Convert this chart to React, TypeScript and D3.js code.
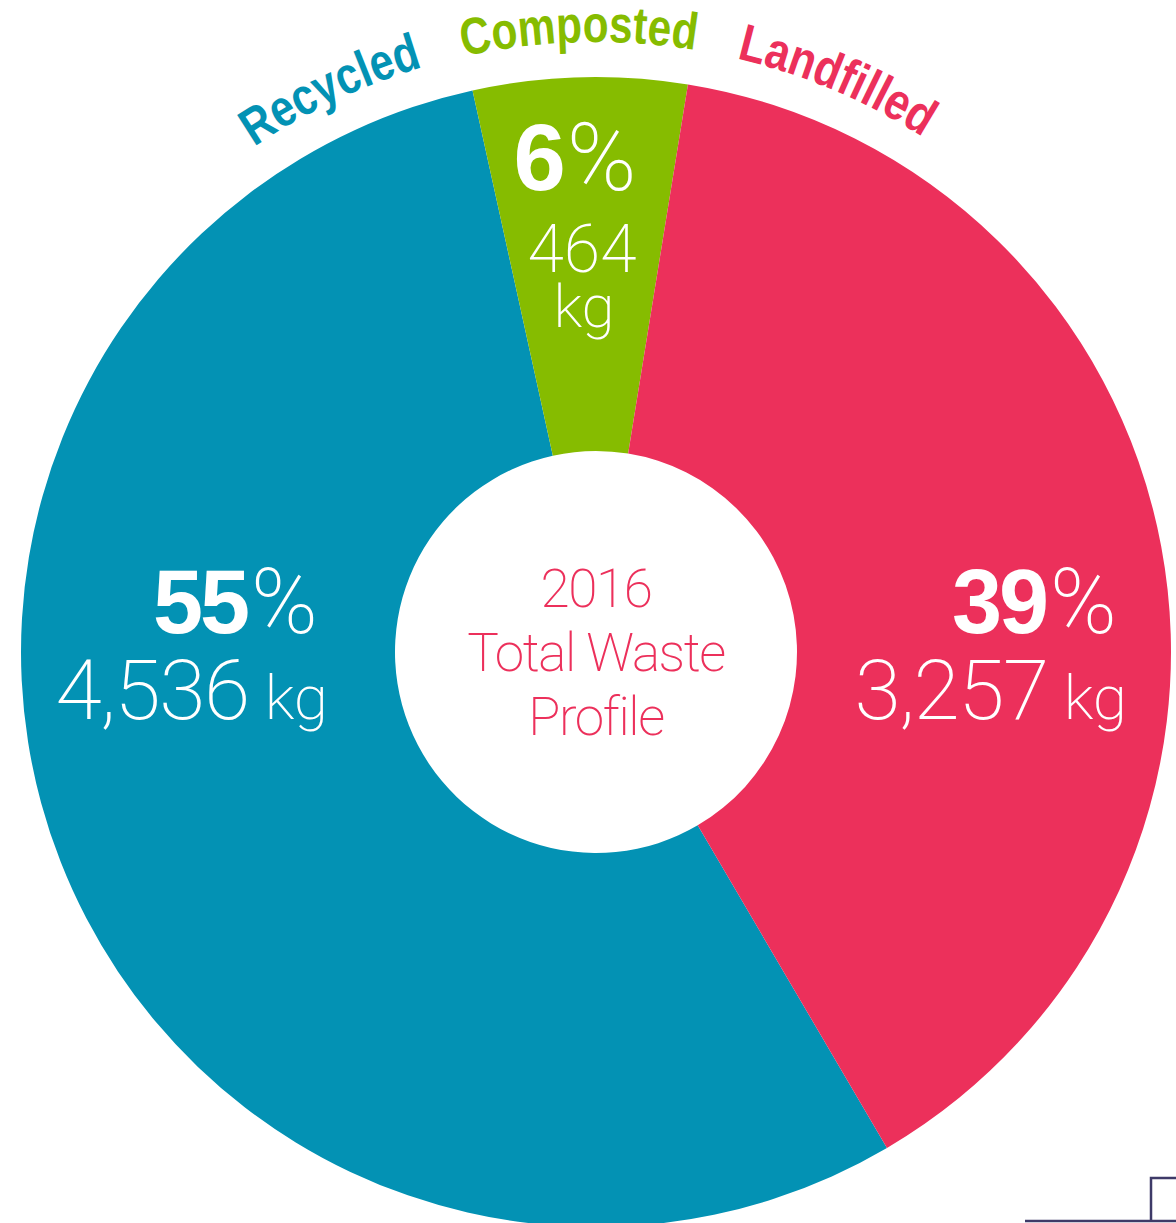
import React from 'react';
import { pie, arc, format } from 'd3';

// slices in drawing order (clockwise, starting bottom-left)
const categories = ['Recycled', 'Composted', 'Landfilled'];
const percents = [55, 6, 39];
const weightsKg = [4536, 464, 3257];
const colors = ['#0392B4', '#86BC00', '#EC305B'];
const centerTitle = ['2016', 'Total Waste', 'Profile'];

const width = 1176;
const height = 1223;
const cx = 596;
const cy = 652;
const outerR = 575;
const innerR = 201;
const labelR = 610;
const deg = Math.PI / 180;

const thinFont = 'Roboto, "Liberation Sans", sans-serif';
const boldFont = '"Liberation Sans", Arial, sans-serif';
const labelFont = '"Liberation Sans", Arial, sans-serif';

// where the numbers sit inside each slice (layout only)
const valueLayout = {
  Recycled: { x: 318, kgX: 328, y: 633, kgY: 719, anchor: 'end', stacked: false },
  Composted: { x: 575, kgX: 582, y: 190, kgY: 272, anchor: 'middle', stacked: true },
  Landfilled: { x: 1117, kgX: 1127, y: 633, kgY: 719, anchor: 'end', stacked: false },
};
// angular length of each curved label (degrees)
const labelSpan = { Recycled: 17.6, Composted: 21.9, Landfilled: 19.1 };

const fmt = format(',');

const App = () => {
  const data = categories.map((name, i) => ({
    name,
    pct: percents[i],
    kg: weightsKg[i],
    color: colors[i],
  }));

  const slices = pie<any>()
    .sort(null)
    .value((d) => d.pct)
    .startAngle(-210.4 * deg)
    .endAngle((360 - 210.4) * deg)(data);

  const arcGen = arc<any>().innerRadius(innerR).outerRadius(outerR);

  // full circle path for the curved labels, starting at the bottom, clockwise
  const labelPath = `M ${cx} ${cy + labelR} A ${labelR} ${labelR} 0 1 1 ${cx} ${cy - labelR} A ${labelR} ${labelR} 0 1 1 ${cx} ${cy + labelR}`;
  const offsetAt = (a: number) => labelR * (a + Math.PI);
  const pad = 4.1 * deg;

  return (
    <svg width={width} height={height} style={{ position: 'absolute', left: 0, top: 0 }}>
      <defs>
        <path id="labelArc" d={labelPath} fill="none" />
      </defs>
      <g transform={`translate(${cx},${cy})`}>
        {slices.map((s) => (
          <path key={s.data.name} d={arcGen(s) || ''} fill={s.data.color} />
        ))}
      </g>

      {slices.map((s) => {
        const span = (labelSpan as any)[s.data.name] * deg;
        let start = (s.startAngle + s.endAngle) / 2 - span / 2;
        if (s.data.name === 'Recycled') start = s.endAngle - pad - span;
        if (s.data.name === 'Landfilled') start = s.startAngle + pad;
        return (
          <text
            key={'lbl' + s.data.name}
            fill={s.data.color}
            style={{ fontFamily: labelFont, fontWeight: 700, fontSize: '52px' }}
          >
            <textPath
              href="#labelArc"
              startOffset={offsetAt(start)}
              textLength={labelR * span}
              lengthAdjust="spacingAndGlyphs"
            >
              {s.data.name}
            </textPath>
          </text>
        );
      })}

      {data.map((d) => {
        const L = (valueLayout as any)[d.name];
        const pctSize = L.stacked ? 94 : 90;
        return (
          <g key={'val' + d.name} fill="#fff">
            <text x={L.x} y={L.y} textAnchor={L.anchor}>
              <tspan style={{ fontFamily: boldFont, fontWeight: 700, fontSize: pctSize + 'px', letterSpacing: '-3px' }}>
                {d.pct}
              </tspan>
              <tspan dx={4} style={{ fontFamily: thinFont, fontWeight: 200, fontSize: pctSize + 'px' }}>%</tspan>
            </text>
            {L.stacked ? (
              <>
                <text x={L.kgX} y={L.kgY} textAnchor="middle" style={{ fontFamily: thinFont, fontWeight: 200, fontSize: '66px' }}>
                  {fmt(d.kg)}
                </text>
                <text x={L.kgX + 2} y={L.kgY + 55} textAnchor="middle" style={{ fontFamily: thinFont, fontWeight: 200, fontSize: '60px' }}>
                  kg
                </text>
              </>
            ) : (
              <text x={L.kgX} y={L.kgY} textAnchor={L.anchor} style={{ fontFamily: thinFont, fontWeight: 200 }}>
                <tspan style={{ fontSize: '84px', letterSpacing: '-1.5px' }}>{fmt(d.kg)}</tspan>
                <tspan dx={16} style={{ fontSize: '62px' }}>kg</tspan>
              </text>
            )}
          </g>
        );
      })}

      {centerTitle.map((line, i) => (
        <text
          key={line}
          x={cx}
          y={607 + i * 64}
          textAnchor="middle"
          fill="#EC305B"
          style={{ fontFamily: thinFont, fontWeight: 200, fontSize: '53px', letterSpacing: '-1.4px' }}
        >
          {line}
        </text>
      ))}

      <path
        d={`M 1025 1221 H ${width} M 1151 1221 V 1178 H ${width}`}
        fill="none"
        stroke="#3E3A68"
        strokeWidth={2.5}
      />
    </svg>
  );
};

export default App;
